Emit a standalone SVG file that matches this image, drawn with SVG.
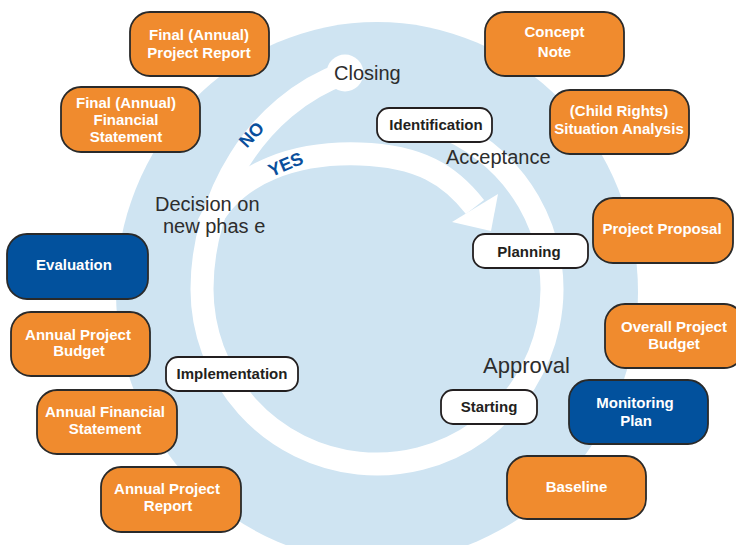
<svg xmlns="http://www.w3.org/2000/svg" width="736" height="545" viewBox="0 0 736 545">
<style>
.bg{fill:#cfe4f2}
.band{fill:none;stroke:#ffffff;stroke-width:23}
.orange{fill:#f08b2e;stroke:#2a2a2a;stroke-width:1.8}
.blue{fill:#02519d;stroke:#2a2a2a;stroke-width:1.8}
.phase{fill:#ffffff;stroke:#231f20;stroke-width:1.8}
.wt{font-family:"Liberation Sans",Arial,sans-serif;font-weight:bold;font-size:15px;fill:#ffffff;text-anchor:middle}
.bt{font-family:"Liberation Sans",Arial,sans-serif;font-weight:bold;font-size:15px;fill:#231f20;text-anchor:middle}
.lbl{font-family:"Liberation Sans",Arial,sans-serif;font-size:20px;fill:#2d2d2d}
.yn{font-family:"Liberation Sans",Arial,sans-serif;font-weight:bold;font-size:18px;fill:#0a4f9c;text-anchor:middle}
</style>
<rect width="736" height="545" fill="#ffffff"/>
<ellipse class="bg" cx="377" cy="292" rx="261" ry="270"/>
<g id="connectors">
  <path class="band" d="M431.1,122.6 A175,175 0 1 1 202,289 C202,200 255,105 345,73"/>
  <circle cx="345" cy="73" r="18.5" fill="#ffffff"/>
  <path class="band" d="M208,225 C235,170 300,152 360,154 S450,175 475,207"/>
  <polygon points="498,194 491,231 452,222" fill="#ffffff"/>
  <text class="yn" transform="translate(256,139) rotate(-47)">NO</text>
  <text class="yn" transform="translate(288,170) rotate(-23)">YES</text>
</g>
<g id="labels">
  <text class="lbl" x="334" y="80">Closing</text>
  <text class="lbl" x="446" y="164">Acceptance</text>
  <text class="lbl" x="155" y="211">Decision on</text>
  <text class="lbl" x="163" y="233">new phas e</text>
  <text class="lbl" x="483" y="373" style="font-size:22px">Approval</text>
</g>
<g id="identification"><rect class="phase" x="377" y="108" width="115" height="34" rx="12"/><text class="bt" x="436" y="129.5">Identification</text></g>
<g id="planning"><rect class="phase" x="473" y="234" width="115" height="34" rx="12"/><text class="bt" x="529" y="257">Planning</text></g>
<g id="starting"><rect class="phase" x="441" y="390" width="96" height="34" rx="12"/><text class="bt" x="489" y="412">Starting</text></g>
<g id="implementation"><rect class="phase" x="166" y="357" width="132" height="34" rx="12"/><text class="bt" x="232" y="379">Implementation</text></g>
<g id="final-project-report"><rect class="orange" x="130" y="12" width="139" height="64" rx="20"/><text class="wt" x="199" y="40">Final (Annual)</text><text class="wt" x="199" y="58">Project Report</text></g>
<g id="final-financial-statement"><rect class="orange" x="61" y="87" width="139" height="65" rx="20"/><text class="wt" x="126" y="108">Final (Annual)</text><text class="wt" x="126" y="125">Financial</text><text class="wt" x="126" y="142">Statement</text></g>
<g id="concept-note"><rect class="orange" x="485" y="12" width="139" height="64" rx="20"/><text class="wt" x="554.5" y="37">Concept</text><text class="wt" x="554.5" y="57">Note</text></g>
<g id="situation-analysis"><rect class="orange" x="550" y="90" width="139" height="64" rx="20"/><text class="wt" x="619" y="116">(Child Rights)</text><text class="wt" x="619" y="134">Situation Analysis</text></g>
<g id="project-proposal"><rect class="orange" x="593" y="198" width="140" height="65" rx="20"/><text class="wt" x="662" y="234">Project Proposal</text></g>
<g id="overall-project-budget"><rect class="orange" x="605" y="304" width="139" height="64" rx="20"/><text class="wt" x="674" y="332">Overall Project</text><text class="wt" x="674" y="349">Budget</text></g>
<g id="monitoring-plan"><rect class="blue" x="569" y="380" width="139" height="64" rx="20"/><text class="wt" x="635" y="408">Monitoring</text><text class="wt" x="636" y="426">Plan</text></g>
<g id="baseline"><rect class="orange" x="507" y="456" width="139" height="63" rx="20"/><text class="wt" x="576.5" y="492">Baseline</text></g>
<g id="evaluation"><rect class="blue" x="7" y="234" width="141" height="65" rx="20"/><text class="wt" x="74" y="270">Evaluation</text></g>
<g id="annual-project-budget"><rect class="orange" x="11" y="312" width="139" height="64" rx="20"/><text class="wt" x="78" y="339.5">Annual Project</text><text class="wt" x="79" y="356">Budget</text></g>
<g id="annual-financial-statement"><rect class="orange" x="37" y="390" width="140" height="64" rx="20"/><text class="wt" x="105" y="417">Annual Financial</text><text class="wt" x="105" y="434">Statement</text></g>
<g id="annual-project-report"><rect class="orange" x="101" y="467" width="140" height="65" rx="20"/><text class="wt" x="167" y="494">Annual Project</text><text class="wt" x="168" y="511">Report</text></g>
</svg>
